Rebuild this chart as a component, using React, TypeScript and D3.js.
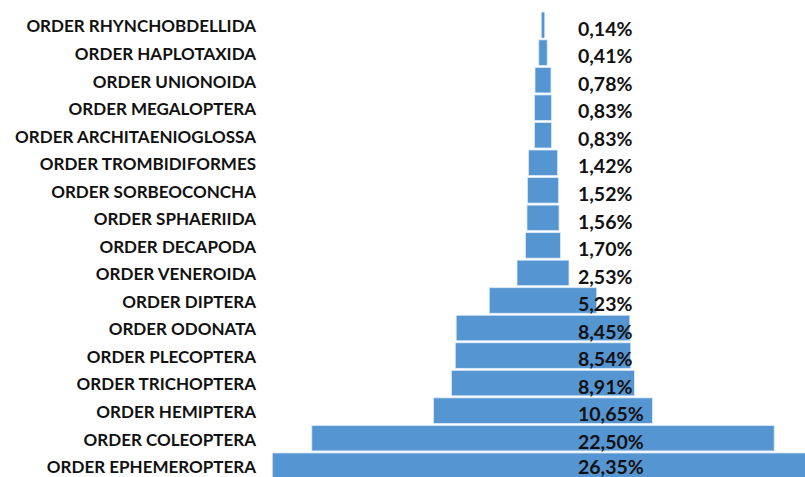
import React from "react";
import * as d3 from "d3";

const categories = [
  "ORDER RHYNCHOBDELLIDA",
  "ORDER HAPLOTAXIDA",
  "ORDER UNIONOIDA",
  "ORDER MEGALOPTERA",
  "ORDER ARCHITAENIOGLOSSA",
  "ORDER TROMBIDIFORMES",
  "ORDER SORBEOCONCHA",
  "ORDER SPHAERIIDA",
  "ORDER DECAPODA",
  "ORDER VENEROIDA",
  "ORDER DIPTERA",
  "ORDER ODONATA",
  "ORDER PLECOPTERA",
  "ORDER TRICHOPTERA",
  "ORDER HEMIPTERA",
  "ORDER COLEOPTERA",
  "ORDER EPHEMEROPTERA",
];
const values = [0.14, 0.41, 0.78, 0.83, 0.83, 1.42, 1.52, 1.56, 1.7, 2.53, 5.23, 8.45, 8.54, 8.91, 10.65, 22.5, 26.35];
const valueLabels = ["0,14%", "0,41%", "0,78%", "0,83%", "0,83%", "1,42%", "1,52%", "1,56%", "1,70%", "2,53%", "5,23%", "8,45%", "8,54%", "8,91%", "10,65%", "22,50%", "26,35%"];

const W = 805;
const H = 477;
const CX = 543;

export default function App() {
  const y = d3.scaleBand<string>().domain(categories).range([11.3, 11.3 + 17 * 27.54]).padding(0);
  const w = d3.scaleLinear().domain([0, 26.35]).range([0, 541.5]);
  const font = "Lato, 'Open Sans', sans-serif";
  return (
    <svg width={W} height={H} style={{ position: "absolute", left: 0, top: 0, background: "#fff" }}>
      {categories.map((c, i) => {
        const y0 = y(c)!;
        const bw = y.bandwidth();
        const cy = y0 + bw / 2;
        const width = Math.max(w(values[i]), 1.5);
        return (
          <g key={c}>
            <rect
              x={CX - width / 2}
              y={y0 + 1}
              width={width}
              height={bw - 2}
              fill="#5596D2"
              stroke="#dfeaf6"
              strokeWidth={values[i] < 0.3 ? 0 : 0.8}
            />
            <text x={256} y={cy + 7.4} textAnchor="end" fontFamily={font} fontWeight={700} fontSize={17} fill="#111">
              {c}
            </text>
            <text x={578} y={Math.min(cy + 10.7, 474)} textAnchor="start" fontFamily={font} fontWeight={700} fontSize={19.5} fill="#111">
              {valueLabels[i]}
            </text>
          </g>
        );
      })}
    </svg>
  );
}
